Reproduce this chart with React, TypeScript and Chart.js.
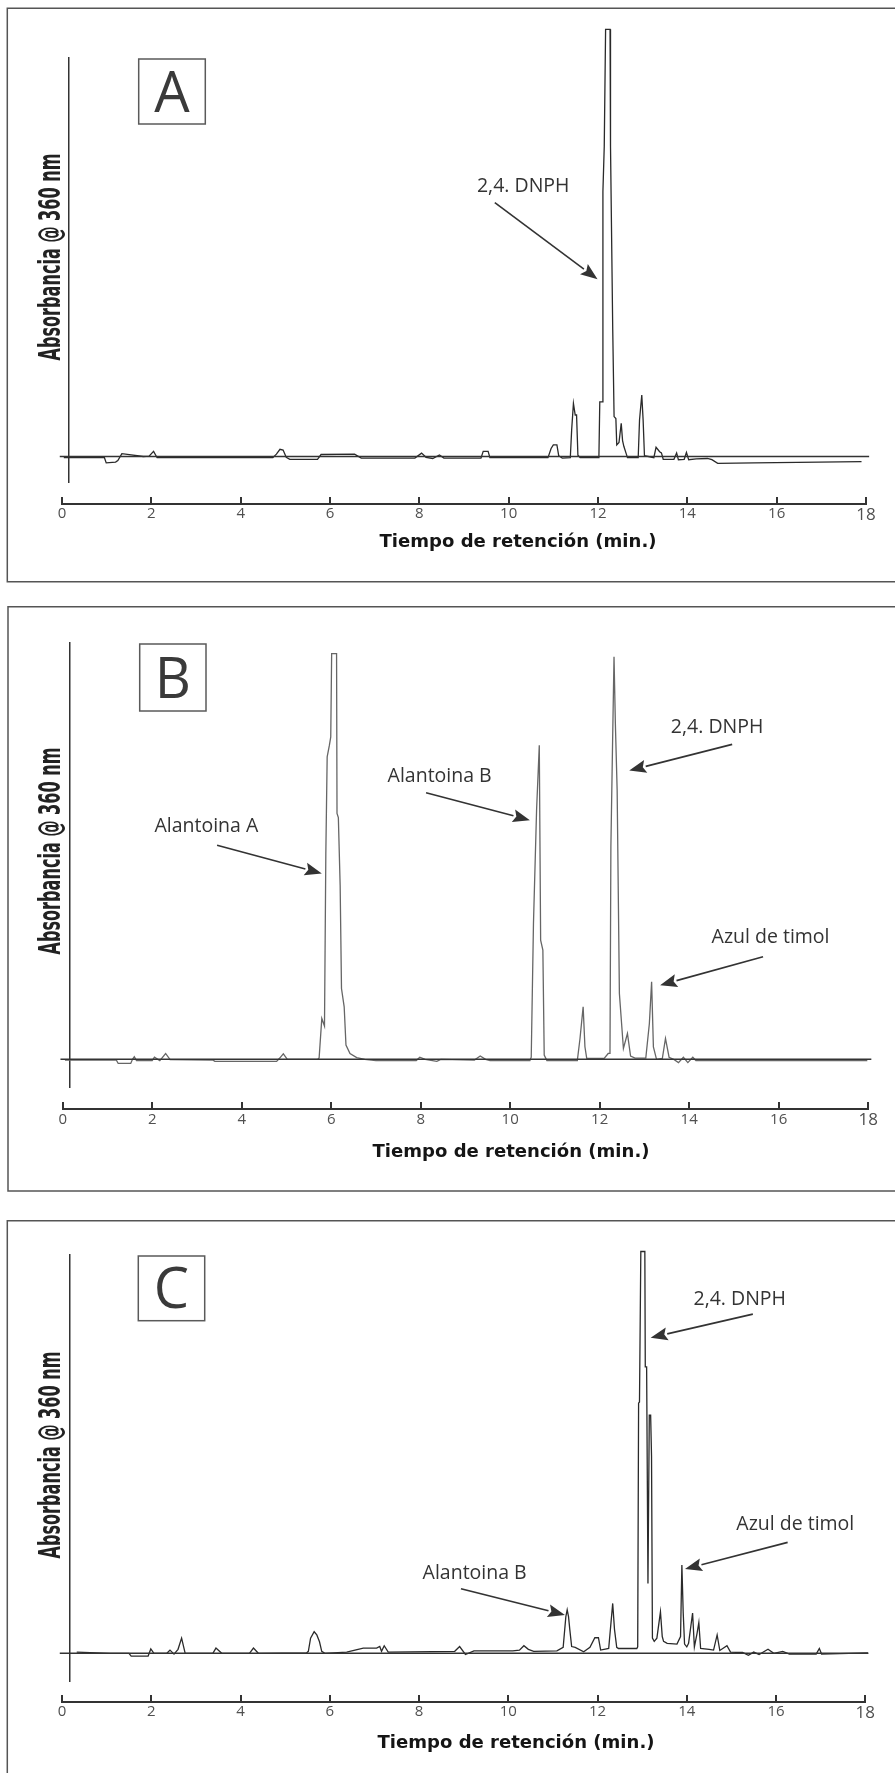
import React, { useEffect, useRef } from 'react';
import { Chart, registerables } from 'chart.js';

Chart.register(...registerables);

// ---------------- data ----------------
const X_TICKS = [0, 2, 4, 6, 8, 10, 12, 14, 16, 18];
const X_TITLE = 'Tiempo de retención (min.)';
const Y_TITLE = 'Absorbancia @ 360 nm';
const PANEL_LETTERS = ['A', 'B', 'C'];

const BASELINE_TIME = [-0.05, 18.07];
const BASELINE_ABS = [0, 0];

// Panel A chromatogram (time in min, absorbance in % of axis height)
const A_TIME = [0.04, 0.95, 0.99, 1.2, 1.25, 1.34, 1.55, 1.82, 1.95, 2.05, 2.13, 4.72, 4.8, 4.88, 4.95, 5.02, 5.1, 5.72, 5.8, 6.55, 6.7, 7.9, 8.05, 8.15, 8.3, 8.45, 8.55, 9.38, 9.43, 9.54, 9.58, 10.88, 10.95, 11.0, 11.08, 11.12, 11.2, 11.38, 11.41, 11.45, 11.49, 11.52, 11.55, 11.6, 12.02, 12.04, 12.09, 12.11, 12.14, 12.17, 12.27, 12.28, 12.33, 12.36, 12.4, 12.42, 12.47, 12.52, 12.55, 12.58, 12.64, 12.66, 12.9, 12.93, 12.98, 13.01, 13.04, 13.25, 13.3, 13.38, 13.42, 13.46, 13.7, 13.76, 13.8, 13.93, 13.98, 14.03, 14.2, 14.45, 14.55, 14.68, 15.5, 17.9];
const A_ABS = [-0.3, -0.3, -1.6, -1.4, -1.0, 0.7, 0.4, 0.0, 0.1, 1.3, -0.3, -0.3, 0.6, 1.8, 1.6, -0.2, -0.7, -0.7, 0.5, 0.6, -0.4, -0.4, 0.85, -0.2, -0.5, 0.4, -0.4, -0.4, 1.3, 1.3, -0.3, -0.3, 2.0, 2.9, 2.9, 0.2, -0.4, -0.3, 6.6, 13.3, 10.4, 10.4, 0.3, -0.3, -0.3, 13.7, 13.7, 66.4, 77.7, 107, 107, 77.7, 31.7, 10.0, 9.5, 2.9, 3.5, 8.3, 4.0, 2.5, 0.4, -0.3, -0.3, 9.2, 15.4, 9.2, 0.2, -0.3, 2.3, 1.2, 0.9, -0.7, -0.7, 0.9, -0.8, -0.7, 1.0, -0.8, -0.6, -0.5, -0.8, -1.7, -1.6, -1.3];

// Panel B chromatogram
const B_TIME = [0.05, 1.2, 1.24, 1.52, 1.56, 1.6, 1.65, 2.0, 2.05, 2.17, 2.3, 2.4, 3.36, 3.4, 4.78, 4.85, 4.93, 5.02, 5.7, 5.73, 5.79, 5.85, 5.88, 5.91, 5.96, 5.99, 6.01, 6.12, 6.13, 6.16, 6.2, 6.23, 6.29, 6.33, 6.42, 6.57, 6.75, 7.0, 7.9, 7.98, 8.1, 8.36, 8.45, 9.2, 9.33, 9.45, 9.55, 10.44, 10.47, 10.52, 10.59, 10.65, 10.68, 10.73, 10.76, 10.82, 11.5, 11.56, 11.63, 11.67, 11.71, 12.1, 12.19, 12.23, 12.25, 12.29, 12.32, 12.35, 12.39, 12.44, 12.53, 12.62, 12.69, 12.79, 13.03, 13.11, 13.16, 13.2, 13.27, 13.4, 13.47, 13.55, 13.65, 13.76, 13.87, 13.97, 14.08, 14.15, 17.98];
const B_ABS = [-0.2, -0.2, -1.0, -1.0, 0.0, 0.6, -0.3, -0.3, 0.5, -0.3, 1.4, -0.1, -0.2, -0.5, -0.5, 0.3, 1.3, 0.0, 0.0, 0.3, 9.8, 8.0, 49.4, 72.6, 75.4, 77.4, 97.4, 97.4, 59.0, 58.0, 41.8, 17.0, 12.6, 3.4, 1.4, 0.4, 0.0, -0.3, -0.3, 0.5, 0.0, -0.5, 0.0, -0.2, 0.8, 0.0, -0.3, -0.3, 0.5, 32.6, 60.0, 75.4, 28.6, 26.2, 1.0, -0.3, -0.3, 5.0, 12.6, 3.0, 0.2, 0.2, 1.4, 1.4, 51.0, 77.4, 96.6, 80.6, 64.6, 15.8, 2.6, 6.2, 0.8, 0.3, 0.3, 8.6, 18.6, 3.0, 0.0, 0.2, 5.0, 0.5, 0.0, -0.8, 0.5, -0.8, 0.5, -0.3, -0.3];

// Panel C chromatogram
const C_TIME = [0.33, 1.08, 1.5, 1.55, 1.93, 1.99, 2.06, 2.35, 2.42, 2.51, 2.6, 2.68, 2.76, 3.38, 3.45, 3.58, 4.2, 4.29, 4.4, 5.48, 5.52, 5.57, 5.65, 5.71, 5.77, 5.82, 5.89, 6.38, 6.75, 7.05, 7.12, 7.16, 7.22, 7.31, 8.8, 8.91, 9.04, 9.23, 10.1, 10.25, 10.35, 10.45, 10.57, 11.09, 11.23, 11.29, 11.32, 11.35, 11.38, 11.42, 11.5, 11.69, 11.83, 11.94, 12.02, 12.07, 12.25, 12.34, 12.38, 12.43, 12.47, 12.88, 12.9, 12.92, 12.94, 12.97, 13.06, 13.07, 13.1, 13.13, 13.16, 13.19, 13.21, 13.23, 13.27, 13.33, 13.41, 13.45, 13.48, 13.56, 13.78, 13.86, 13.89, 13.92, 13.95, 14.0, 14.04, 14.13, 14.17, 14.23, 14.27, 14.31, 14.5, 14.6, 14.68, 14.74, 14.9, 14.98, 15.25, 15.38, 15.5, 15.62, 15.82, 15.95, 16.15, 16.3, 16.9, 16.97, 17.02, 18.06];
const C_ABS = [0.3, 0.0, 0.0, -0.7, -0.7, 1.1, 0.0, 0.0, 0.8, -0.2, 1.0, 3.8, 0.0, 0.0, 1.3, 0.0, 0.0, 1.3, 0.0, 0.1, 0.5, 3.8, 5.4, 4.6, 2.9, 0.5, 0.0, 0.3, 1.3, 1.3, 1.7, 0.5, 1.9, 0.3, 0.5, 1.7, -0.3, 0.6, 0.6, 0.8, 1.9, 1.0, 0.5, 0.6, 1.5, 9.2, 10.9, 9.2, 5.8, 1.7, 1.5, 0.4, 1.5, 3.9, 3.9, 0.8, 1.2, 12.5, 6.0, 1.5, 1.2, 1.2, 1.6, 62.7, 63.0, 100.7, 100.7, 71.8, 71.8, 17.5, 59.7, 59.7, 49.3, 3.8, 3.0, 3.8, 10.4, 4.2, 3.0, 2.5, 2.3, 4.2, 22.1, 10.1, 2.3, 1.6, 2.5, 10.1, 1.6, 5.0, 7.7, 1.2, 1.0, 0.8, 4.6, 0.7, 1.9, 0.3, 0.2, -0.5, 0.3, -0.3, 1.0, 0.0, 0.5, -0.2, -0.2, 1.2, -0.2, 0.1];

// Peak annotations: label, label anchor (min, abs), arrow start, arrow tip
const A_NOTE_LABELS = ['2,4. DNPH'];
const A_NOTE_AT = [[9.29, 66.3]];
const A_NOTE_FROM = [[9.69, 63.6]];
const A_NOTE_TO = [[11.99, 44.4]];

const B_NOTE_LABELS = ['Alantoina A', 'Alantoina B', '2,4. DNPH', 'Azul de timol'];
const B_NOTE_AT = [[2.05, 54.6], [7.26, 66.6], [13.59, 78.3], [14.5, 28.0]];
const B_NOTE_FROM = [[3.45, 51.4], [8.12, 64.0], [14.96, 75.6], [15.65, 24.6]];
const B_NOTE_TO = [[5.79, 44.6], [10.44, 57.4], [12.66, 69.3], [13.35, 17.8]];

const C_NOTE_LABELS = ['2,4. DNPH', 'Azul de timol', 'Alantoina B'];
const C_NOTE_AT = [[14.15, 87.3], [15.11, 30.9], [8.08, 18.5]];
const C_NOTE_FROM = [[15.48, 85.0], [16.26, 27.8], [8.94, 16.2]];
const C_NOTE_TO = [[13.19, 79.1], [13.96, 21.1], [11.27, 9.6]];

// ---------------- layout (page pixels) ----------------
const PAGE_W = 895;
const PANELS = [
  {
    letter: PANEL_LETTERS[0], time: A_TIME, abs: A_ABS,
    notes: { labels: A_NOTE_LABELS, at: A_NOTE_AT, from: A_NOTE_FROM, to: A_NOTE_TO },
    canvasTop: 0, canvasHeight: 595,
    border: { left: 7.3, top: 8.3, bottom: 581.7 },
    area: { left: 62, right: 866, top: 57.3, bottom: 482.7 },
    baselinePx: 456.5, axisPx: 504, yAxisPx: 68.8,
    box: { x1: 138.7, y1: 59, x2: 205.3, y2: 124 },
    yTitleCY: 257, xTitleCX: 518, xTitleBase: 546.7,
    traceColor: '#2a2a2a',
  },
  {
    letter: PANEL_LETTERS[1], time: B_TIME, abs: B_ABS,
    notes: { labels: B_NOTE_LABELS, at: B_NOTE_AT, from: B_NOTE_FROM, to: B_NOTE_TO },
    canvasTop: 595, canvasHeight: 613,
    border: { left: 8, top: 606.7, bottom: 1191 },
    area: { left: 62.7, right: 868.2, top: 642.7, bottom: 1087.3 },
    baselinePx: 1059.3, axisPx: 1109.3, yAxisPx: 69.6,
    box: { x1: 139.7, y1: 644, x2: 206, y2: 711 },
    yTitleCY: 851, xTitleCX: 511, xTitleBase: 1156.7,
    traceColor: '#666666',
  },
  {
    letter: PANEL_LETTERS[2], time: C_TIME, abs: C_ABS,
    notes: { labels: C_NOTE_LABELS, at: C_NOTE_AT, from: C_NOTE_FROM, to: C_NOTE_TO },
    canvasTop: 1208, canvasHeight: 565,
    border: { left: 7.3, top: 1220.7, bottom: 1800 },
    area: { left: 62, right: 865.3, top: 1254.3, bottom: 1681 },
    baselinePx: 1653.3, axisPx: 1702, yAxisPx: 69.3,
    box: { x1: 138.3, y1: 1256, x2: 204.7, y2: 1320.7 },
    yTitleCY: 1455, xTitleCX: 516, xTitleBase: 1747.5,
    traceColor: '#2a2a2a',
  },
];

const Y_TITLE_LEN = 207;
const X_TITLE_LEN = 277;

function makeDecor(p: any) {
  const t = p.canvasTop;
  return {
    id: 'decor' + p.letter,
    beforeDraw(chart: any) {
      const ctx = chart.ctx;
      ctx.save();
      ctx.fillStyle = '#ffffff';
      ctx.fillRect(0, 0, chart.width, chart.height);
      // panel frame
      ctx.strokeStyle = '#555555';
      ctx.lineWidth = 1.5;
      ctx.beginPath();
      ctx.moveTo(PAGE_W + 10, p.border.top - t);
      ctx.lineTo(p.border.left, p.border.top - t);
      ctx.lineTo(p.border.left, p.border.bottom - t);
      ctx.lineTo(PAGE_W + 10, p.border.bottom - t);
      ctx.stroke();
      // letter box
      const b = p.box;
      ctx.lineWidth = 1.5;
      ctx.strokeStyle = '#5a5a5a';
      ctx.strokeRect(b.x1, b.y1 - t, b.x2 - b.x1, b.y2 - b.y1);
      ctx.fillStyle = '#3a3a3a';
      ctx.font = '56px "Open Sans"';
      ctx.textAlign = 'center';
      ctx.textBaseline = 'alphabetic';
      const cy = (b.y1 + b.y2) / 2 - t;
      ctx.fillText(p.letter, (b.x1 + b.x2) / 2, cy + 20);
      // y title (condensed bold, rotated)
      ctx.save();
      ctx.translate(60, p.yTitleCY - t);
      ctx.rotate(-Math.PI / 2);
      ctx.font = 'bold 30px "DejaVu Sans"';
      const wy = ctx.measureText(Y_TITLE).width;
      ctx.scale(Y_TITLE_LEN / wy, 1);
      ctx.fillStyle = '#222222';
      ctx.textAlign = 'center';
      ctx.fillText(Y_TITLE, 0, 0);
      ctx.restore();
      // x title
      ctx.save();
      ctx.font = 'bold 18.5px "DejaVu Sans"';
      const wx = ctx.measureText(X_TITLE).width;
      ctx.translate(p.xTitleCX, p.xTitleBase - t);
      ctx.scale(X_TITLE_LEN / wx, 1);
      ctx.fillStyle = '#151515';
      ctx.textAlign = 'center';
      ctx.fillText(X_TITLE, 0, 0);
      ctx.restore();
      ctx.restore();
    },
    afterDraw(chart: any) {
      const ctx = chart.ctx;
      const xs = chart.scales.x;
      const ys = chart.scales.y;
      const n = p.notes;
      ctx.save();
      ctx.fillStyle = '#333333';
      ctx.strokeStyle = '#333333';
      ctx.font = '19.5px "Open Sans"';
      ctx.textAlign = 'left';
      ctx.textBaseline = 'alphabetic';
      for (let i = 0; i < n.labels.length; i++) {
        ctx.fillText(n.labels[i], xs.getPixelForValue(n.at[i][0]), ys.getPixelForValue(n.at[i][1]));
        const x1 = xs.getPixelForValue(n.from[i][0]);
        const y1 = ys.getPixelForValue(n.from[i][1]);
        const x2 = xs.getPixelForValue(n.to[i][0]);
        const y2 = ys.getPixelForValue(n.to[i][1]);
        const ang = Math.atan2(y2 - y1, x2 - x1);
        const hl = 17, hw = 6.5;
        const bx = x2 - hl * Math.cos(ang);
        const by = y2 - hl * Math.sin(ang);
        ctx.lineWidth = 1.6;
        ctx.beginPath();
        ctx.moveTo(x1, y1);
        ctx.lineTo(bx, by);
        ctx.stroke();
        ctx.beginPath();
        ctx.moveTo(x2, y2);
        ctx.lineTo(bx + hw * Math.sin(ang), by - hw * Math.cos(ang));
        ctx.lineTo(bx + 3 * Math.cos(ang), by + 3 * Math.sin(ang));
        ctx.lineTo(bx - hw * Math.sin(ang), by + hw * Math.cos(ang));
        ctx.closePath();
        ctx.fill();
      }
      ctx.restore();
    },
  };
}

function Panel({ p }: { p: any }) {
  const ref = useRef<HTMLCanvasElement | null>(null);
  useEffect(() => {
    if (!ref.current) return;
    const a = p.area;
    const pxPerUnit = (p.baselinePx - a.top) / 100;
    const yMin = -(a.bottom - p.baselinePx) / pxPerUnit;
    const axisVal = -(p.axisPx - p.baselinePx) / pxPerUnit;
    const yAxisVal = ((p.yAxisPx - a.left) / (a.right - a.left)) * 18;
    const lastTick = X_TICKS[X_TICKS.length - 1];
    const chart = new Chart(ref.current, {
      type: 'line',
      data: {
        datasets: [
          {
            data: BASELINE_TIME.map((x, i) => ({ x, y: BASELINE_ABS[i] })),
            borderColor: '#333333',
            borderWidth: 1.4,
            pointRadius: 0,
            tension: 0,
            clip: false as any,
          },
          {
            data: p.time.map((x: number, i: number) => ({ x, y: p.abs[i] })),
            borderColor: p.traceColor,
            borderWidth: 1.3,
            pointRadius: 0,
            tension: 0,
            clip: false as any,
          },
        ],
      },
      options: {
        responsive: false,
        animation: false,
        devicePixelRatio: 1,
        events: [],
        layout: {
          padding: {
            left: a.left,
            right: PAGE_W - a.right,
            top: a.top - p.canvasTop,
            bottom: p.canvasTop + p.canvasHeight - a.bottom,
          },
        },
        plugins: {
          legend: { display: false },
          tooltip: { enabled: false },
          title: { display: false },
        },
        scales: {
          x: {
            type: 'linear',
            axis: 'x',
            position: { y: axisVal } as any,
            min: 0,
            max: 18,
            afterBuildTicks: (s: any) => {
              s.ticks = X_TICKS.map((v) => ({ value: v }));
            },
            ticks: {
              autoSkip: false,
              maxRotation: 0,
              padding: 9,
              color: '#505050',
              font: (c: any) => ({
                family: '"Open Sans"',
                size: c.tick && c.tick.value === lastTick ? 17 : 15,
                weight: 'normal',
              }),
            },
            grid: {
              display: true,
              drawOnChartArea: false,
              drawTicks: true,
              tickLength: -8,
              tickWidth: 2,
              tickColor: '#333333',
              color: '#333333',
              lineWidth: 2,
            },
            border: { display: true, color: '#333333', width: 2 },
          },
          y: {
            type: 'linear',
            axis: 'y',
            position: { x: yAxisVal } as any,
            min: yMin,
            max: 100,
            ticks: { display: false },
            grid: { display: false },
            border: { display: true, color: '#333333', width: 1.5 },
          },
        } as any,
      },
      plugins: [makeDecor(p)],
    });
    return () => chart.destroy();
  }, [p]);
  return (
    <canvas
      ref={ref}
      width={PAGE_W}
      height={p.canvasHeight}
      style={{ position: 'absolute', left: 0, top: p.canvasTop, width: PAGE_W, height: p.canvasHeight, display: 'block' }}
    />
  );
}

export default function App() {
  return (
    <div style={{ position: 'absolute', left: 0, top: 0, width: PAGE_W, height: 1773, background: '#ffffff', overflow: 'hidden' }}>
      {PANELS.map((p) => (
        <Panel key={p.letter} p={p} />
      ))}
    </div>
  );
}
